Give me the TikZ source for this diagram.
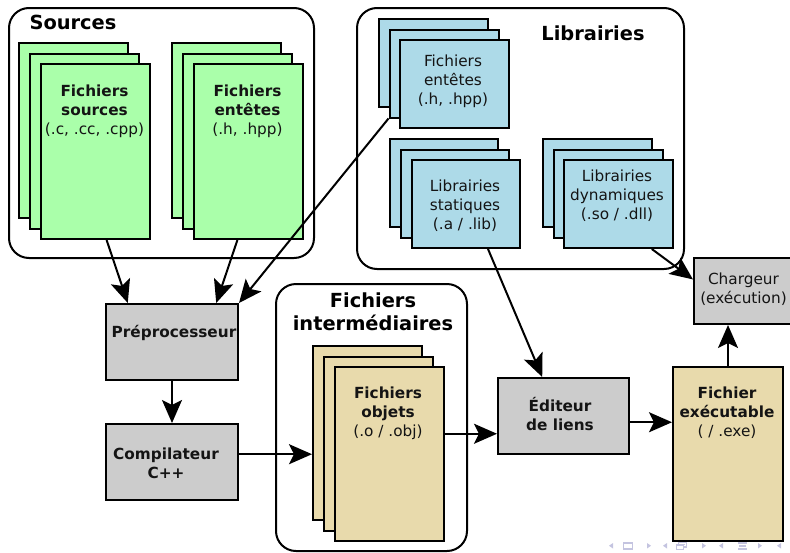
\documentclass[tikz,border=0pt]{standalone}
\usepackage{fontspec}
\setmainfont{DejaVu Sans}
\usetikzlibrary{arrows.meta,calc}
\definecolor{srcgreen}{RGB}{170,255,170}
\definecolor{libblue}{RGB}{173,218,232}
\definecolor{objtan}{RGB}{232,218,172}
\definecolor{toolgray}{RGB}{204,204,204}
\definecolor{navcol}{RGB}{196,196,224}
\definecolor{inktext}{RGB}{20,20,20}
\begin{document}
\begin{tikzpicture}[x=1pt,y=-1pt,
  group/.style={draw, line width=2pt, rounded corners=20pt, anchor=north west, inner sep=0pt},
  sheet/.style={draw, line width=2pt, anchor=north west, inner sep=0pt},
  gsheet/.style={sheet, fill=srcgreen, minimum width=109, minimum height=175},
  bsheet/.style={sheet, fill=libblue, minimum width=109, minimum height=88},
  tsheet/.style={sheet, fill=objtan, minimum width=109, minimum height=174},
  tool/.style={sheet, fill=toolgray},
  txt/.style={align=center, inner sep=0pt, text=inktext, font=\fontsize{15.3}{19}\selectfont},
  ttl/.style={align=center, inner sep=0pt, font=\fontsize{19.4}{23}\selectfont\bfseries},
  arr/.style={draw, line width=2pt, -{Stealth[length=23pt, width=20pt, inset=5pt]}},
  nav/.style={fill=navcol, draw=none},
  navline/.style={draw=navcol, line width=1.2pt}]
\useasboundingbox (0,0) rectangle (790,552);

% container boxes
\node[group, minimum width=305, minimum height=250] (gsrc) at (8,7) {};
\node[group, minimum width=327, minimum height=261] (glib) at (356,7) {};
\node[group, minimum width=191, minimum height=267] (gint) at (275,283) {};

\node[ttl] (tsrc) at (73,22) {Sources};
\node[ttl] (tlib) at (593,33) {Librairies};
\node[ttl] (tint) at (373,311.5) {Fichiers\\interm\'ediaires};

% source files
\foreach \i/\n in {0/a,1/b,2/c}
  \node[gsheet] (src\n) at (18+11*\i,42+10.5*\i) {};
\node[txt] (srct) at (94.5,111) {\textbf{Fichiers}\\\textbf{sources}\\(.c, .cc, .cpp)};

% header files
\foreach \i/\n in {0/a,1/b,2/c}
  \node[gsheet] (hdr\n) at (171+11*\i,42+10.5*\i) {};
\node[txt] (hdrt) at (247.5,111) {\textbf{Fichiers}\\\textbf{ent\^etes}\\(.h, .hpp)};

% library headers
\foreach \i/\n in {0/a,1/b,2/c}
  \node[bsheet] (lhd\n) at (378+10.5*\i,18+10.5*\i) {};
\node[txt] (lhdt) at (453,81) {Fichiers\\ent\^etes\\(.h, .hpp)};

% static libraries
\foreach \i/\n in {0/a,1/b,2/c}
  \node[bsheet, minimum width=108] (sta\n) at (389+11*\i,138+10.5*\i) {};
\node[txt] (stat) at (465,206) {Librairies\\statiques\\(.a / .lib)};

% dynamic libraries
\foreach \i/\n in {0/a,1/b,2/c}
  \node[bsheet] (dyn\n) at (542+10.5*\i,138+10.5*\i) {};
\node[txt] (dynt) at (617,196) {Librairies\\dynamiques\\(.so / .dll)};

% object files
\foreach \i/\n in {0/a,1/b,2/c}
  \node[tsheet] (obj\n) at (312+11*\i,345+10.5*\i) {};
\node[txt] (objt) at (388,413) {\textbf{Fichiers}\\\textbf{objets}\\(.o / .obj)};

% executable
\node[tsheet, minimum width=110] (exe) at (672,366) {};
\node[txt] (exet) at (727,413) {\textbf{Fichier}\\\textbf{ex\'ecutable}\\( / .exe)};

% tools
\node[tool, minimum width=132, minimum height=76] (pre) at (105,303) {};
\node[txt, font=\fontsize{15.3}{19}\selectfont\bfseries] (pret) at (174,333) {Pr\'eprocesseur};
\node[tool, minimum width=132, minimum height=76] (comp) at (105,423) {};
\node[txt, font=\fontsize{15.3}{19}\selectfont\bfseries] (compt) at (166,463) {Compilateur\\C++};
\node[tool, minimum width=131, minimum height=76] (edit) at (497,377) {};
\node[txt, font=\fontsize{15.3}{19}\selectfont\bfseries] (editt) at (560,414) {\'Editeur\\de liens};
\node[tool, minimum width=101, minimum height=66] (chg) at (693,257) {};
\node[txt] (chgt) at (743.5,289) {Chargeur\\(ex\'ecution)};

% connectors
\draw[arr] ($(srcc.south west)!0.6!(srcc.south east)$) -- ($(pre.north west)!0.17!(pre.north east)$);
\draw[arr] ($(hdrc.south west)!0.4!(hdrc.south east)$) -- ($(pre.north west)!0.83!(pre.north east)$);
\draw[arr] (lhdb.south west) -- (pre.north east);
\draw[arr] (pre.south) -- (comp.north);
\coordinate (c1) at ($(comp.north east)!0.4!(comp.south east)$);
\draw[arr] (c1) -- (c1 -| obja.west);
\coordinate (c2) at ($(objc.north east)!0.385!(objc.south east)$);
\draw[arr] (c2) -- (c2 -| edit.west);
\coordinate (c3) at ($(edit.north east)!0.58!(edit.south east)$);
\draw[arr] (c3) -- (c3 -| exe.west);
\draw[arr] (exe.north) -- (exe.north |- chg.south);
\draw[arr] ($(stac.south west)!0.7!(stac.south east)$) -- ($(edit.north west)!0.34!(edit.north east)$);
\draw[arr] ($(dync.south west)!0.8!(dync.south east)$) -- ($(chg.north west)!0.33!(chg.south west)$);

% navigation symbols
\fill[nav] (613,543) -- (609,545.75) -- (613,548.5) -- cycle;
\draw[navline] (623.5,543) rectangle (632.5,549);
\fill[nav] (647,543) -- (651,545.75) -- (647,548.5) -- cycle;
\fill[nav] (667,543) -- (663,545.75) -- (667,548.5) -- cycle;
\draw[navline] (676.5,545) rectangle (683.5,549.5);
\draw[navline] (678.5,543.5) -- (678.5,542.5) -- (686.5,542.5) -- (686.5,547) -- (684,547);
\draw[navline] (680,544.5) -- (685,544.5);
\fill[nav] (702,543) -- (706,545.75) -- (702,548.5) -- cycle;
\fill[nav] (723,543) -- (719,545.75) -- (723,548.5) -- cycle;
\draw[navline] (738,543) -- (747,543);
\draw[navline] (739,546) -- (746,546);
\draw[navline] (738,549) -- (747,549);
\fill[nav] (758,543) -- (762,545.75) -- (758,548.5) -- cycle;
\fill[nav] (781,543) -- (777,545.75) -- (781,548.5) -- cycle;
\end{tikzpicture}
\end{document}
